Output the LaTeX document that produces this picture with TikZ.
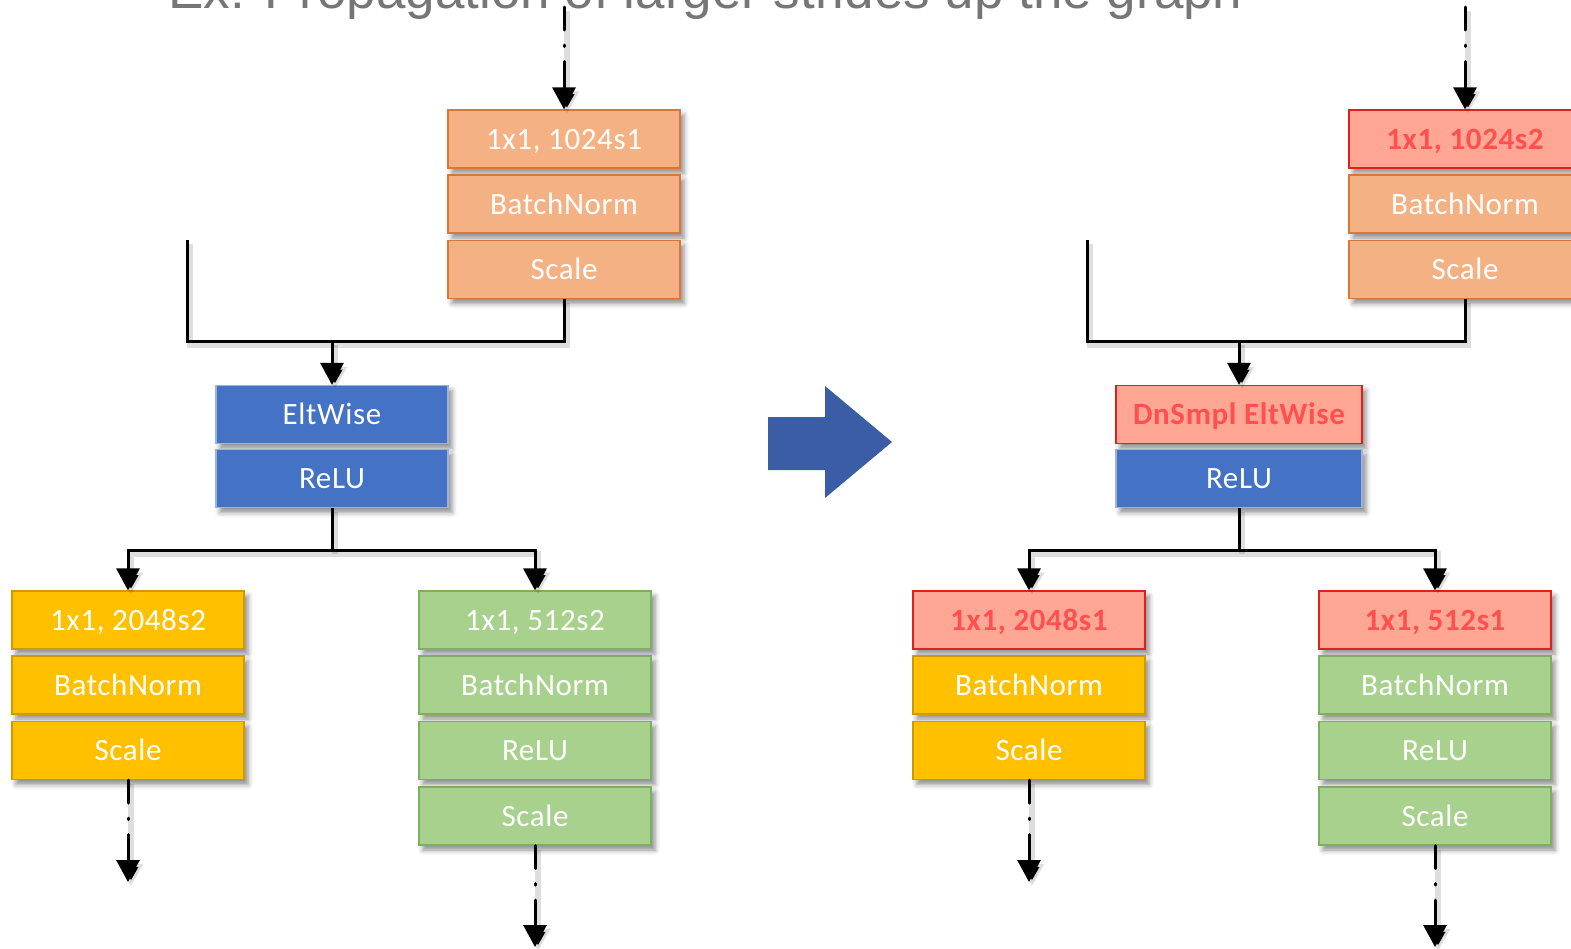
\documentclass[tikz,border=0pt]{standalone}
\usepackage{fontspec}
\setmainfont{Carlito}[LetterSpace=2]
\newfontfamily\titlefont{Liberation Sans}
\usetikzlibrary{arrows.meta,shadows.blur}

\definecolor{orfill}{HTML}{F4B183}
\definecolor{ordraw}{HTML}{D9773A}
\definecolor{blfill}{HTML}{4472C4}
\definecolor{bldraw}{HTML}{9DB2DA}
\definecolor{yefill}{HTML}{FFC000}
\definecolor{yedraw}{HTML}{CC9A06}
\definecolor{grfill}{HTML}{A9D18E}
\definecolor{grdraw}{HTML}{7DAF5C}
\definecolor{pkfill}{HTML}{FFA695}
\definecolor{pkdraw}{HTML}{E02020}
\definecolor{pktext}{HTML}{FF5050}
\definecolor{bigarrow}{HTML}{3B5DA6}
\definecolor{titlegray}{HTML}{767676}

\begin{document}
\begin{tikzpicture}[x=1pt,y=-1pt,
  blk/.style={rectangle, inner sep=0pt, minimum width=232pt, minimum height=58pt,
    line width=1.2pt, text=white, font=\fontsize{31}{36}\selectfont,
    text height=20pt, text depth=0pt,
    blur shadow={shadow xshift=4pt, shadow yshift=-5pt, shadow blur radius=5pt, shadow opacity=45}},
  orange/.style={blk, fill=orfill, draw=ordraw},
  blue/.style={blk, fill=blfill, draw=bldraw},
  yellow/.style={blk, fill=yefill, draw=yedraw},
  green/.style={blk, fill=grfill, draw=grdraw},
  pink/.style={blk, fill=pkfill, draw=pkdraw, text=pktext, font=\fontsize{31}{36}\selectfont\bfseries},
  conn/.style={line width=3pt, draw=black, line join=miter,
    preaction={draw=black, draw opacity=0.13, line width=6pt,
      transform canvas={shift={(3pt,-4pt)}}}},
  arr/.style={conn, -{Triangle[width=23pt,length=22pt]}},
  gap/.style={line cap=round, dash pattern=on 23pt off 15pt on 1.5pt off 15pt on 400pt},
]
\useasboundingbox (0,0) rectangle (1571,948);
\clip (0,0) rectangle (1571,948);

% heading, mostly above the page edge
\node[anchor=base west, inner sep=0pt, text=titlegray,
  font=\titlefont\fontsize{53}{60}\selectfont] (title) at (168,8)
  {Ex: Propagation of larger strides up the graph};

% ---------------- before ----------------
\node[orange] (La1) at (564,139) {1x1, 1024s1};
\node[orange] (La2) at (564,204) {BatchNorm};
\node[orange] (La3) at (564,269.5) {Scale};

\node[blue] (Lb1) at (332,414.5) {EltWise};
\node[blue] (Lb2) at (332,478.5) {ReLU};

\node[yellow] (Lc1) at (128,620) {1x1, 2048s2};
\node[yellow] (Lc2) at (128,685) {BatchNorm};
\node[yellow] (Lc3) at (128,750.5) {Scale};

\node[green] (Ld1) at (535,620) {1x1, 512s2};
\node[green] (Ld2) at (535,685) {BatchNorm};
\node[green] (Ld3) at (535,750.5) {ReLU};
\node[green] (Ld4) at (535,816) {Scale};

\coordinate (Lin) at (564,7);
\coordinate (Lskip) at (187,240);
\coordinate (Ljoin) at (332,341);
\coordinate (Lsplit) at (332,550);
\coordinate (Lout1) at (128,882);
\coordinate (Lout2) at (535,947);

\draw[arr,gap] (Lin) -- (La1.north);
\draw[conn] (Lskip) |- (Ljoin) -| (La3.south);
\draw[arr] (Ljoin) -- (Lb1.north);
\draw[conn] (Lb2.south) -- (Lsplit);
\draw[arr] (Lsplit) -| (Lc1.north);
\draw[arr] (Lsplit) -| (Ld1.north);
\draw[arr,gap] (Lc3.south) -- (Lout1);
\draw[arr,gap] (Ld4.south) -- (Lout2);

% ---------------- transformation arrow ----------------
\fill[bigarrow] (768,417) -- (825,417) -- (825,386) -- (892,442)
  -- (825,498) -- (825,470) -- (768,470) -- cycle;

% ---------------- after ----------------
\node[pink] (Ra1) at (1465,139) {1x1, 1024s2};
\node[orange] (Ra2) at (1465,204) {BatchNorm};
\node[orange] (Ra3) at (1465,269.5) {Scale};

\node[pink, minimum width=246pt] (Rb1) at (1239,414.5) {DnSmpl EltWise};
\node[blue, minimum width=246pt] (Rb2) at (1239,478.5) {ReLU};

\node[pink] (Rc1) at (1029,620) {1x1, 2048s1};
\node[yellow] (Rc2) at (1029,685) {BatchNorm};
\node[yellow] (Rc3) at (1029,750.5) {Scale};

\node[pink] (Rd1) at (1435,620) {1x1, 512s1};
\node[green] (Rd2) at (1435,685) {BatchNorm};
\node[green] (Rd3) at (1435,750.5) {ReLU};
\node[green] (Rd4) at (1435,816) {Scale};

\coordinate (Rin) at (1465,7);
\coordinate (Rskip) at (1087,240);
\coordinate (Rjoin) at (1239,341);
\coordinate (Rsplit) at (1239,550);
\coordinate (Rout1) at (1029,882);
\coordinate (Rout2) at (1435,947);

\draw[arr,gap] (Rin) -- (Ra1.north);
\draw[conn] (Rskip) |- (Rjoin) -| (Ra3.south);
\draw[arr] (Rjoin) -- (Rb1.north);
\draw[conn] (Rb2.south) -- (Rsplit);
\draw[arr] (Rsplit) -| (Rc1.north);
\draw[arr] (Rsplit) -| (Rd1.north);
\draw[arr,gap] (Rc3.south) -- (Rout1);
\draw[arr,gap] (Rd4.south) -- (Rout2);
\end{tikzpicture}
\end{document}
